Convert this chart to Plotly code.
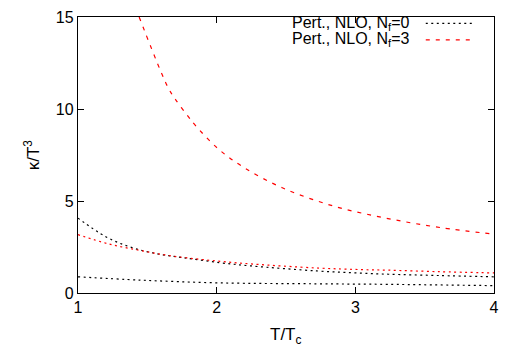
import plotly.graph_objects as go

# Data
t_nf0_up = [1.0, 1.2, 1.38, 1.57, 1.76, 2.02, 2.25, 2.72, 3.05, 3.24, 3.6, 4.0]
k_nf0_up = [4.07, 3.06, 2.49, 2.13, 1.92, 1.65, 1.47, 1.20, 1.075, 1.02, 0.95, 0.88]

t_nf0_lo = [1.0, 1.45, 2.02, 2.72, 3.24, 4.0]
k_nf0_lo = [0.88, 0.70, 0.55, 0.50, 0.47, 0.40]

t_nf3_dot = [1.0, 1.22, 1.45, 1.69, 2.03, 2.25, 2.72, 3.05, 3.24, 3.6, 4.0]
k_nf3_dot = [3.17, 2.67, 2.31, 2.0, 1.72, 1.58, 1.36, 1.27, 1.24, 1.16, 1.09]

t_nf3_dash = [1.441, 1.595, 1.655, 1.70, 1.797, 1.845, 2.006, 2.19, 2.473, 2.84, 3.22, 3.61, 4.0]
k_nf3_dash = [15.0, 12.08, 11.09, 10.55, 9.57, 9.12, 7.87, 6.85, 5.72, 4.73, 4.07, 3.56, 3.2]

legend_labels = ["Pert., NLO, N<sub>f</sub>=0", "Pert., NLO, N<sub>f</sub>=3"]
x_ticks = [1, 2, 3, 4]
y_ticks = [0, 5, 10, 15]

FONT = "Liberation Sans, Arial, Helvetica, sans-serif"
DOT = "2px,3.5px"
DASH = "4px,6px"

fig = go.Figure()
fig.add_trace(go.Scatter(x=t_nf0_up, y=k_nf0_up, mode="lines", line=dict(color="black", width=1.2, dash=DOT, shape="spline"), showlegend=False))
fig.add_trace(go.Scatter(x=t_nf0_lo, y=k_nf0_lo, mode="lines", line=dict(color="black", width=1.2, dash=DOT, shape="spline"), showlegend=False))
fig.add_trace(go.Scatter(x=t_nf3_dot, y=k_nf3_dot, mode="lines", line=dict(color="#ff0000", width=1.2, dash=DOT, shape="spline"), showlegend=False))
fig.add_trace(go.Scatter(x=t_nf3_dash, y=k_nf3_dash, mode="lines", line=dict(color="#ff0000", width=1.2, dash=DASH, shape="spline"), showlegend=False))

# gnuplot-style legend: text to the left of the sample
leg_rows = [(legend_labels[0], "black", DOT, 0.977), (legend_labels[1], "#ff0000", DASH, 0.917)]
shapes = []
annotations = []
for lab, col, dsh, yp in leg_rows:
    annotations.append(dict(text=lab, xref="paper", yref="paper", x=0.80, y=yp, xanchor="right", yanchor="middle",
                            showarrow=False, font=dict(family=FONT, size=16, color="black")))
    shapes.append(dict(type="line", xref="paper", yref="paper", x0=0.836, x1=0.947, y0=yp, y1=yp,
                       line=dict(color=col, width=1.2, dash=dsh)))

annotations.append(dict(text="κ/T<sup>3</sup>", xref="paper", yref="paper", x=-0.11, y=0.5, textangle=-90,
                        xanchor="center", yanchor="middle", showarrow=False, font=dict(family=FONT, size=17, color="black")))
annotations.append(dict(text="T/T<sub>c</sub>", xref="paper", yref="paper", x=0.5, y=-0.11,
                        xanchor="center", yanchor="top", showarrow=False, font=dict(family=FONT, size=17, color="black")))

axis_common = dict(showline=True, linecolor="black", linewidth=1.3, mirror="ticks", ticks="inside", ticklen=6,
                   tickcolor="black", tickwidth=1, showgrid=False, zeroline=False,
                   tickfont=dict(family=FONT, size=16, color="black"))

fig.update_layout(
    width=508, height=348,
    margin=dict(l=78, r=9, t=14, b=55),
    paper_bgcolor="white", plot_bgcolor="white",
    xaxis=dict(range=[1, 4], tickvals=x_ticks, ticktext=[str(v) for v in x_ticks], **axis_common),
    yaxis=dict(range=[0, 15], tickvals=y_ticks, ticktext=[str(v) for v in y_ticks], **axis_common),
    shapes=shapes, annotations=annotations, showlegend=False,
)

fig.write_html("out.html", config={"displayModeBar": False},
               post_script="document.body.style.margin='0';document.body.style.overflow='hidden';")
